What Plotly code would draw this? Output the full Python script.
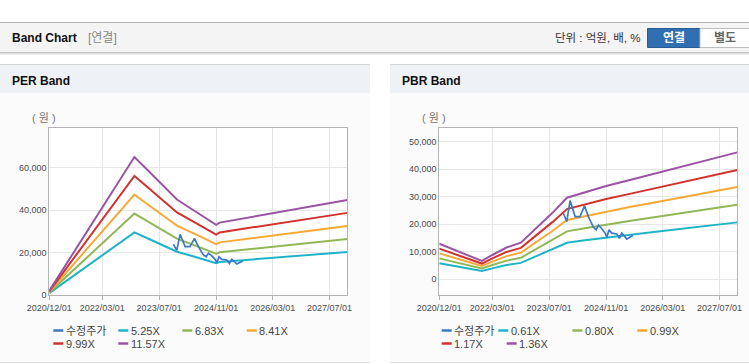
import plotly.graph_objects as go

W, H = 749, 364

# ---------------- data ----------------
tick_dates = ["2020-12-01", "2022-03-01", "2023-07-01", "2024-11-01", "2026-03-01", "2027-07-01"]
tick_labels = ["2020/12/01", "2022/03/01", "2023/07/01", "2024/11/01", "2026/03/01", "2027/07/01"]

per_dates = ["2020-12-01", "2021-06-01", "2022-01-01", "2022-06-01", "2022-12-01", "2023-04-01",
             "2023-08-01", "2023-12-01", "2024-05-01", "2024-11-01", "2024-12-01", "2025-06-01",
             "2026-01-01", "2026-07-01", "2027-01-01", "2027-07-01", "2027-12-01"]
per_525 = [900, 8000, 16400, 22300, 29500, 26500, 23500, 20400, 18000, 15000, 15500, 16300, 17200, 18000, 18800, 19600, 20300]
per_683 = [1200, 10450, 21300, 29100, 38400, 34500, 30500, 26600, 23400, 19500, 20100, 21200, 22400, 23500, 24500, 25600, 26400]
per_841 = [1400, 12900, 26300, 35800, 47300, 42400, 37600, 32700, 28800, 24000, 24800, 26100, 27600, 28900, 30200, 31500, 32500]
per_999 = [1700, 15300, 31200, 42500, 56100, 50400, 44600, 38900, 34200, 28500, 29500, 31000, 32800, 34300, 35900, 37400, 38700]
per_1157 = [2000, 17700, 36200, 49200, 65000, 58400, 51700, 45000, 39600, 33100, 34100, 35900, 38000, 39700, 41500, 43300, 44800]

pbr_dates = ["2020-12-01", "2021-06-01", "2021-12-01", "2022-03-01", "2022-07-01", "2022-11-01", "2023-03-01",
             "2023-08-01", "2023-12-01", "2024-05-01", "2024-11-01", "2025-06-01", "2026-01-01", "2026-07-01",
             "2027-01-01", "2027-07-01", "2027-12-01"]
pbr_061 = [5810, 4390, 2990, 3970, 5190, 5970, 8130, 10880, 13300, 14160, 15210, 16240, 17290, 18170, 19070, 19950, 20700]
pbr_080 = [7620, 5760, 3920, 5200, 6800, 7820, 10660, 14270, 17440, 18570, 19940, 21300, 22670, 23830, 25010, 26160, 27140]
pbr_099 = [9430, 7130, 4850, 6440, 8420, 9680, 13190, 17660, 21580, 22980, 24680, 26360, 28050, 29490, 30950, 32380, 33590]
pbr_117 = [11140, 8420, 5730, 7610, 9950, 11440, 15590, 20870, 25510, 27160, 29170, 31150, 33160, 34850, 36570, 38270, 39700]
pbr_136 = [12950, 9790, 6660, 8840, 11560, 13300, 18120, 24260, 29650, 31570, 33900, 36210, 38540, 40510, 42510, 44480, 46150]

price_dates = ["2023-10-31", "2023-11-29", "2023-12-28", "2024-01-20", "2024-02-09", "2024-03-22", "2024-04-29",
               "2024-06-02", "2024-07-15", "2024-08-07", "2024-08-27", "2024-09-25", "2024-10-23", "2024-11-07",
               "2024-11-26", "2024-12-19", "2025-01-31", "2025-02-23", "2025-03-15", "2025-04-07", "2025-04-27",
               "2025-05-26", "2025-06-18"]
price = [24000, 21000, 28600, 25100, 22800, 22800, 26700, 22800, 18900, 18000, 19700, 18400, 16800, 15300,
         18000, 16800, 16500, 14900, 16800, 15700, 14600, 15400, 15900]

per_names = ["수정주가", "5.25X", "6.83X", "8.41X", "9.99X", "11.57X"]
pbr_names = ["수정주가", "0.61X", "0.80X", "0.99X", "1.17X", "1.36X"]
colors = ["#3b78c6", "#1fb3c7", "#92b756", "#f6a935", "#d1322d", "#9b54a4"]

# ---------------- helpers ----------------
def px(x):
    return x / W


def py(y):
    return 1 - y / H


FONT = "Liberation Sans, Arial, Noto Sans CJK KR, sans-serif"

fig = go.Figure()

per_series = [per_525, per_683, per_841, per_999, per_1157]
pbr_series = [pbr_061, pbr_080, pbr_099, pbr_117, pbr_136]

for i, s in enumerate(per_series):
    fig.add_trace(go.Scatter(x=per_dates, y=s, mode="lines", name=per_names[i + 1],
                             line=dict(color=colors[i + 1], width=2), xaxis="x", yaxis="y"))
fig.add_trace(go.Scatter(x=price_dates, y=price, mode="lines", name=per_names[0],
                         line=dict(color=colors[0], width=1.7), xaxis="x", yaxis="y"))

for i, s in enumerate(pbr_series):
    fig.add_trace(go.Scatter(x=pbr_dates, y=s, mode="lines", name=pbr_names[i + 1],
                             line=dict(color=colors[i + 1], width=2), xaxis="x2", yaxis="y2"))
fig.add_trace(go.Scatter(x=price_dates, y=price, mode="lines", name=pbr_names[0],
                         line=dict(color=colors[0], width=1.7), xaxis="x2", yaxis="y2"))

plot_top, plot_bot = 128, 295
per_l, per_r = 49.3, 347.3
pbr_l, pbr_r = 439.3, 737.3

xcommon = dict(type="date", range=["2020-12-01", "2027-12-01"], tickvals=tick_dates, ticktext=tick_labels,
               tickfont=dict(size=9, color="#4a4a4a", family=FONT), showgrid=True, gridcolor="#e6e6e6",
               gridwidth=1, showline=True, linecolor="#b4b4b4", linewidth=1, mirror=True,
               ticks="outside", ticklen=4, tickcolor="#b4b4b4", zeroline=False, fixedrange=True,
               automargin=False)
ycommon = dict(tickfont=dict(size=9, color="#4a4a4a", family=FONT), showgrid=True, gridcolor="#e6e6e6",
               showline=True, linecolor="#b4b4b4", linewidth=1, mirror=True, ticks="",
               tickformat=",d", zeroline=False, fixedrange=True, automargin=False)

fig.update_layout(
    template="none", autosize=False,
    width=W, height=H, margin=dict(l=0, r=0, t=0, b=0, pad=0, autoexpand=False),
    paper_bgcolor="white", plot_bgcolor="rgba(0,0,0,0)", showlegend=False,
    xaxis=dict(xcommon, domain=[px(per_l), px(per_r)], anchor="y"),
    yaxis=dict(ycommon, domain=[py(plot_bot), py(plot_top)], range=[0, 78700],
               tickvals=[0, 20000, 40000, 60000], anchor="x"),
    xaxis2=dict(xcommon, domain=[px(pbr_l), px(pbr_r)], anchor="y2"),
    yaxis2=dict(ycommon, domain=[py(plot_bot), py(plot_top)], range=[-5700, 55000],
                tickvals=[0, 10000, 20000, 30000, 40000, 50000], anchor="x2"),
)

shapes = []


def rect(x0, y0, x1, y1, fill, line=None, layer="below"):
    shapes.append(dict(type="rect", xref="paper", yref="paper", x0=px(x0), x1=px(x1), y0=py(y1), y1=py(y0),
                       fillcolor=fill, line=dict(width=0) if line is None else line, layer=layer))


def hline(x0, x1, y, color, width=1):
    shapes.append(dict(type="line", xref="paper", yref="paper", x0=px(x0), x1=px(x1), y0=py(y), y1=py(y),
                       line=dict(color=color, width=width), layer="below"))


# page header
rect(0, 23, W, 52, "#f4f4f4")
hline(0, W, 22.5, "#b2b2b2")
hline(0, W, 52.5, "#c4c4c4")
hline(0, W, 53.5, "#dcdcdc")
hline(0, W, 54.5, "#eeeeee")

# panels
for (a, b) in [(0, 370), (390, W)]:
    rect(a, 64, b, 362, "#fbfbfb")
    rect(a, 64, b, 93, "#eef2f7")
    hline(a, b, 64.5, "#d6d6d6")
    hline(a, b, 362.5, "#dddddd")

# plot backgrounds
rect(per_l, plot_top, per_r, plot_bot, "white")
rect(pbr_l, plot_top, pbr_r, plot_bot, "white")

# buttons
rect(647.5, 28.5, 700, 47.5, "#2f6fb2", line=dict(color="#275d97", width=1))
rect(700, 28.5, 752, 47.5, "white", line=dict(color="#bdbdbd", width=1))

annotations = []


def text(x, y, s, size=11, color="#333", bold=False, anchor="left"):
    annotations.append(dict(xref="paper", yref="paper", x=px(x), y=py(y), text=("<b>%s</b>" % s) if bold else s,
                            showarrow=False, xanchor=anchor, yanchor="middle",
                            font=dict(size=size, color=color, family=FONT)))


text(10, 38, "Band Chart", size=12, color="#111", bold=True)
text(86, 38, "[연결]", size=12, color="#888")
text(643, 38, "단위 : 억원, 배, %", size=11.5, color="#333", anchor="right")
text(673.7, 38, "연결", size=12, color="white", bold=True, anchor="center")
text(725, 38, "별도", size=12, color="#666", bold=True, anchor="center")
text(10, 80.5, "PER Band", size=12, color="#111", bold=True)
text(400, 80.5, "PBR Band", size=12, color="#111", bold=True)
text(44, 118, "( 원 )", size=11, color="#777", anchor="center")
text(434, 118, "( 원 )", size=11, color="#777", anchor="center")

# legends
per_leg = [(53.3, 330.5), (118.3, 330.5), (182.3, 330.5), (246.7, 330.5), (53.3, 343.5), (118.3, 343.5)]
pbr_leg = [(441.7, 330.5), (498.3, 330.5), (572.3, 330.5), (637.3, 330.5), (441.7, 343.5), (506.7, 343.5)]
for names, pos in [(per_names, per_leg), (pbr_names, pbr_leg)]:
    for i, (x, y) in enumerate(pos):
        hline(x, x + 10, y, colors[i], width=2.5)
        text(x + 10.5, y, names[i], size=11, color="#444")

fig.update_layout(shapes=shapes, annotations=annotations)

fig.write_html("out.html", config={"displayModeBar": False},
               post_script="document.body.style.margin='0';document.body.style.overflow='hidden';")
